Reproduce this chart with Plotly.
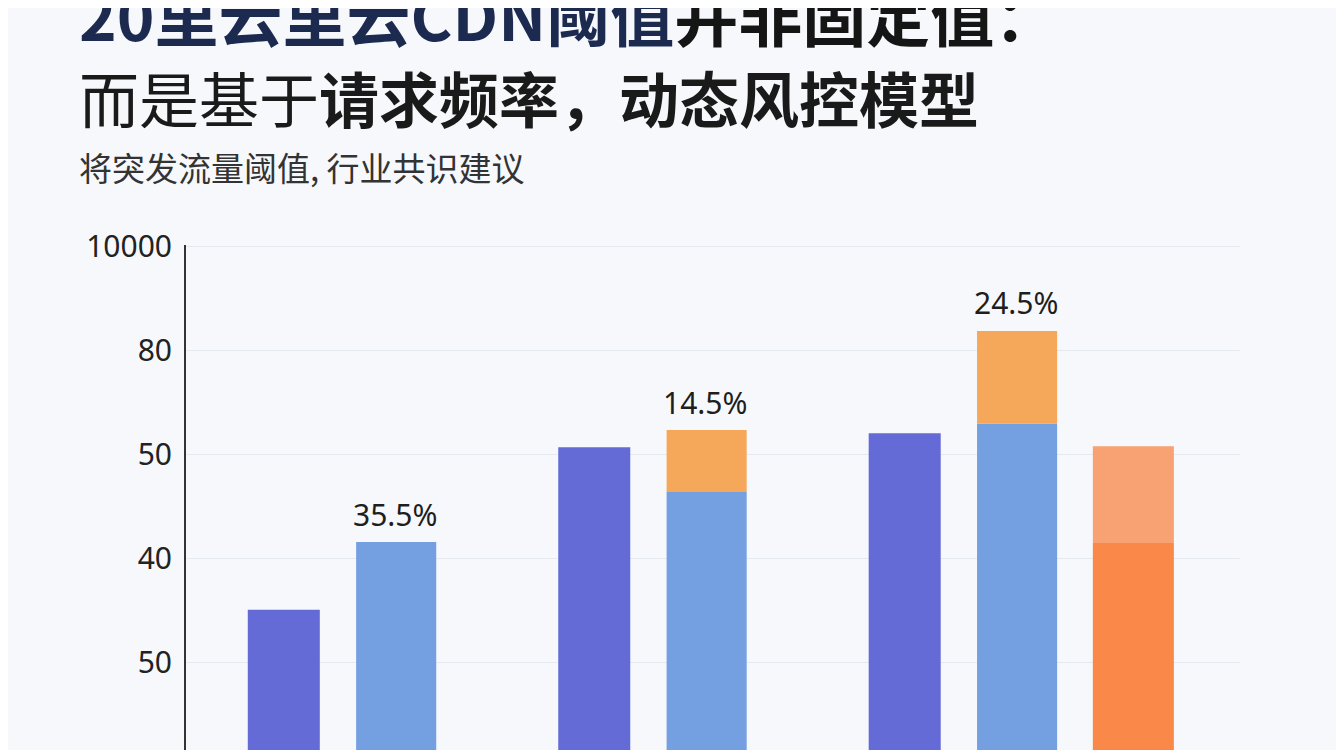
import plotly.graph_objects as go

# 数据
groups = ["组1", "组2", "组3"]
series_a = [30.2, 61.4, 64.1]          # 第一根柱（蓝紫）
series_b = [43.2, 52.8, 65.9]          # 第二根柱底部（浅蓝）
series_b_top = [None, 11.9, 17.8]      # 第二根柱顶部（橙）
series_c = [None, None, 43.0]          # 第三根柱底部（深橙）
series_c_top = [None, None, 18.6]      # 第三根柱顶部（浅橙）
pct_labels = ["35.5%", "14.5%", "24.5%"]

tick_vals = [100, 80, 60, 40, 20]
tick_text = ["10000", "80", "50", "40", "50"]

BG = "#f6f8fc"
CJK = "Noto Sans CJK SC"
# 页面 body 有 8px 边距，所以图比窗口小 8px
OFF = 8
W, H = 1344 - OFF, 750 - OFF
L, R, T, B = 186 - OFF, 104, 245 - OFF, 0


def px_to_paper(px, py):
    # 窗口像素位置 -> paper 坐标（标题放在绘图区外面）
    px, py = px - OFF, py - OFF
    return (px - L) / (W - L - R), (H - B - py) / (H - T - B)


fig = go.Figure()

fig.add_trace(go.Bar(x=groups, y=series_a, offset=-0.297, width=0.232,
                     marker=dict(color="#656bd6", line_width=0)))
fig.add_trace(go.Bar(x=groups, y=series_b, offset=0.052, width=0.258,
                     marker=dict(color="#74a0e2", line_width=0)))
fig.add_trace(go.Bar(x=groups, y=series_b_top, base=series_b, offset=0.052, width=0.258,
                     marker=dict(color="#f5a75a", line_width=0)))
fig.add_trace(go.Bar(x=groups, y=series_c, offset=0.425, width=0.261,
                     marker=dict(color="#fa8849", line_width=0)))
fig.add_trace(go.Bar(x=groups, y=series_c_top, base=series_c, offset=0.425, width=0.261,
                     marker=dict(color="#f8a172", line_width=0)))

# 百分比标签放在第二根柱上方
annotations = []
for g, b, t, lab in zip(groups, series_b, series_b_top, pct_labels):
    total = b + (t or 0)
    annotations.append(dict(x=g, y=total, xref="x", yref="y", text=lab, showarrow=False,
                            xshift=55, yshift=28, yanchor="middle",
                            font=dict(family="Noto Sans", size=30, color="#1e1e1e")))

# 标题与副标题（第一行上沿在原图里就被裁掉了）
titles = [
    (13, "<b><span style='color:#1b2a4e'>20里云里云CDN阈值</span>并非固定值：</b>", 64, "#151515"),
    (97, "而是基于<b>请求频率，动态风控模型</b>", 60, "#1a1a1a"),
    (167, "将突发流量阈值, 行业共识建议", 33, "#333333"),
]
for py, txt, size, col in titles:
    ax, ay = px_to_paper(77, py)
    annotations.append(dict(x=ax, y=ay, xref="paper", yref="paper", xanchor="left",
                            yanchor="middle", showarrow=False, text=txt,
                            font=dict(family=CJK, size=size, color=col)))

fig.update_layout(
    width=W, height=H,
    margin=dict(l=L, r=R, t=T, b=B),
    barmode="overlay",
    showlegend=False,
    paper_bgcolor=BG, plot_bgcolor=BG,
    annotations=annotations,
    xaxis=dict(range=[-0.496, 2.899], showticklabels=False, showgrid=False,
               zeroline=False, showline=False, fixedrange=True),
    yaxis=dict(range=[3.3, 100.2], tickvals=tick_vals, ticktext=tick_text,
               showgrid=True, gridcolor="#e5e9f0", gridwidth=1, zeroline=False,
               showline=True, linecolor="#333333", linewidth=2,
               ticks="", ticklabelstandoff=6,
               tickfont=dict(family="Noto Sans", size=30, color="#222222")),
)

fig.write_html("out.html")
